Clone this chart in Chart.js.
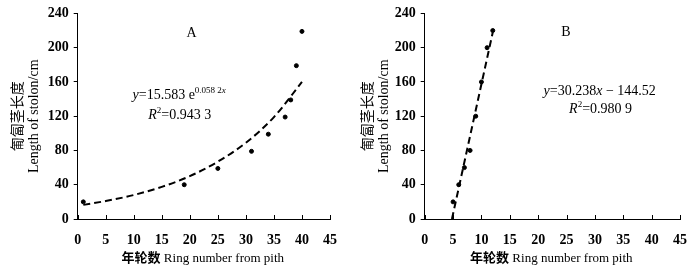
<!DOCTYPE html>
<html><head><meta charset="utf-8">
<script src="https://cdn.jsdelivr.net/npm/chart.js@4/dist/chart.umd.min.js"></script>
<style>
html,body{margin:0;padding:0;background:#fff;}
#wrap{position:relative;width:700px;height:273px;}
.c{position:absolute;top:0;width:350px;height:273px;}
</style></head>
<body><div id="wrap">
<div class="c" style="left:0"><canvas id="cA" width="350" height="273"></canvas></div>
<div class="c" style="left:350px"><canvas id="cB" width="350" height="273"></canvas></div>
</div>
<script>
// Panel A data
const ringsA = [1, 19, 25, 31, 34, 37, 38, 39, 40];
const lengthA = [20, 40, 59, 79, 99, 119, 139, 179, 219];
const trendXA = [1, 5, 10, 15, 20, 25, 30, 35, 40];
const trendYA = [16.5, 21, 28, 37.5, 50, 67, 89, 119, 160];
// Panel B data
const ringsB = [5, 6, 7, 8, 9, 10, 11, 12];
const lengthB = [20, 40, 60, 80, 120, 160, 200, 220];
const trendXB = [4.8, 12];
const trendYB = [0, 218];
// Axis ticks
const xTicks = [0, 5, 10, 15, 20, 25, 30, 35, 40, 45];
const yTicks = [0, 40, 80, 120, 160, 200, 240];

const SERIF = '"Liberation Serif", "Times New Roman", "Noto Sans CJK SC", serif';
const CJK = '"Noto Sans CJK SC", sans-serif';

function pts(xs, ys){ return xs.map((x,i)=>({x:x, y:ys[i]})); }

const xInsideTicks = {
  id:'xInsideTicks',
  afterDraw(chart){
    const ctx = chart.ctx, xs = chart.scales.x, a = chart.chartArea;
    ctx.save(); ctx.strokeStyle='#000'; ctx.lineWidth=1;
    xTicks.forEach(v=>{
      const px = Math.round(xs.getPixelForValue(v))+0.5;
      ctx.beginPath(); ctx.moveTo(px, a.bottom); ctx.lineTo(px, a.bottom-4); ctx.stroke();
    });
    ctx.restore();
  }
};

// draw sequence of text runs centered at (cx, baseline)
function drawRuns(ctx, runs, cx, by){
  let w = 0;
  runs.forEach(r=>{ ctx.font = r.f; r.w = ctx.measureText(r.t).width; w += r.w; });
  let x = cx - w/2;
  ctx.textBaseline='alphabetic'; ctx.textAlign='left'; ctx.fillStyle='#000';
  runs.forEach(r=>{ ctx.font = r.f; ctx.fillText(r.t, x, by + (r.dy||0)); x += r.w; });
}

const notes = {
  id:'notes',
  afterDraw(chart, args, opts){
    const ctx = chart.ctx, xs = chart.scales.x, ys = chart.scales.y, a = chart.chartArea;
    ctx.save();
    (opts.items||[]).forEach(it=>{
      drawRuns(ctx, it.runs, xs.getPixelForValue(it.x), ys.getPixelForValue(it.y));
    });
    // x-axis title: bold Chinese + regular English
    drawRuns(ctx, [{t:'年轮数', f:'bold 13px ' + CJK},{t:' Ring number from pith', f:'13px ' + SERIF}], (a.left + a.right)/2 - 1, 262);
    ctx.restore();
  }
};

const N = '14px ' + SERIF, I = 'italic 14px ' + SERIF, S = '9px ' + SERIF;

function makeChart(id, pX, pY, tX, tY, yWidth, topPad, items){
  return new Chart(document.getElementById(id), {
    type:'scatter',
    data:{datasets:[
      {data: pts(pX,pY), pointRadius:2, pointBackgroundColor:'#000', pointBorderColor:'#000', showLine:false, order:1},
      {data: pts(tX,tY), showLine:true, pointRadius:0, borderColor:'#000', borderWidth:2, borderDash:[7,4], cubicInterpolationMode:'monotone', fill:false, order:2}
    ]},
    options:{
      responsive:false, animation:false, devicePixelRatio:1,
      layout:{padding:{top:topPad, right:12.3, bottom:0, left:0}},
      plugins:{legend:{display:false}, tooltip:{enabled:false}, notes:{items:items}},
      scales:{
        x:{type:'linear', min:0, max:45,
          afterBuildTicks(s){ s.ticks = xTicks.map(v=>({value:v})); },
          afterFit(s){ s.height = 54; },
          grid:{display:false, drawTicks:false},
          border:{display:true, color:'#000', width:1},
          ticks:{color:'#000', font:{family:SERIF, size:14, weight:'bold'}, padding:13, maxRotation:0, autoSkip:false},
          title:{display:false}
        },
        y:{type:'linear', min:0, max:240,
          afterBuildTicks(s){ s.ticks = yTicks.map(v=>({value:v})); },
          afterFit(s){ s.width = yWidth; },
          grid:{display:true, drawOnChartArea:false, drawTicks:true, tickLength:4, color:'#000'},
          border:{display:true, color:'#000', width:1},
          ticks:{color:'#000', font:{family:SERIF, size:14, weight:'bold'}, padding:5},
          title:{display:true, text:['匍匐茎长度','Length of stolon/cm'], color:'#000', font:{family:SERIF, size:14, lineHeight:1.2}, padding:{top:9.5,bottom:0}}
        }
      }
    },
    plugins:[xInsideTicks, notes]
  });
}

makeChart('cA', ringsA, lengthA, trendXA, trendYA, 77.7, 11, [
  {x:20.3, y:212.3, runs:[{t:'A', f:N}]},
  {x:18.1, y:139.6, runs:[{t:'y', f:I},{t:'=15.583 e', f:N},{t:'0.058 2', f:S, dy:-6},{t:'x', f:'italic 9px '+SERIF, dy:-6}]},
  {x:18.2, y:116.5, runs:[{t:'R', f:I},{t:'2', f:S, dy:-6},{t:'=0.943 3', f:N}]}
]);
makeChart('cB', ringsB, lengthB, trendXB, trendYB, 74.7, 12.3, [
  {x:24.9, y:213.8, runs:[{t:'B', f:N}]},
  {x:30.85, y:144.4, runs:[{t:'y', f:I},{t:'=30.238', f:N},{t:'x', f:I},{t:' \u2212 144.52', f:N}]},
  {x:31.0, y:123.6, runs:[{t:'R', f:I},{t:'2', f:S, dy:-6},{t:'=0.980 9', f:N}]}
]);
</script>
</body></html>
